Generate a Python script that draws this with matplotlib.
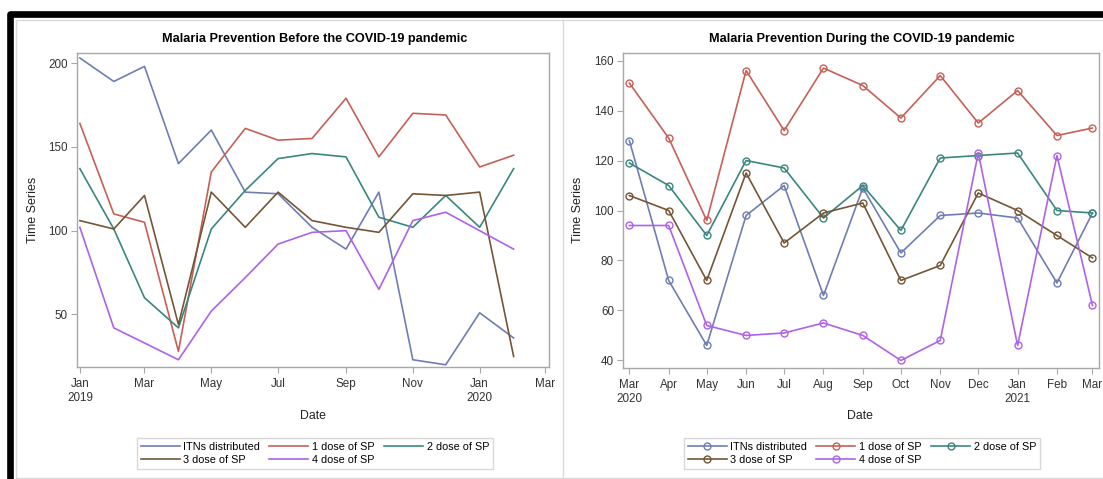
import matplotlib
matplotlib.use('Agg')
import matplotlib.pyplot as plt
import matplotlib.dates as mdates
from matplotlib.patches import Rectangle
from matplotlib.lines import Line2D
import pandas as pd

plt.rcParams['font.family'] = ['Liberation Sans', 'DejaVu Sans']

W, H = 1103, 479

series_names = ['ITNs distributed', '1 dose of SP', '2 dose of SP', '3 dose of SP', '4 dose of SP']
series_colors = ['#6F7DB4', '#C66056', '#39877F', '#745636', '#AD62E8']

# before the pandemic (monthly, Jan 2019 - Feb 2020)
months_before = ['2019-01', '2019-02', '2019-03', '2019-04', '2019-05', '2019-06', '2019-07',
                 '2019-08', '2019-09', '2019-10', '2019-11', '2019-12', '2020-01', '2020-02']
itn_before = [203, 189, 198, 140, 160, 123, 122, 102, 89, 123, 23, 20, 51, 36]
sp1_before = [164, 110, 105, 28, 135, 161, 154, 155, 179, 144, 170, 169, 138, 145]
sp2_before = [137, 101, 60, 42, 101, 124, 143, 146, 144, 108, 102, 121, 102, 137]
sp3_before = [106, 101, 121, 44, 123, 102, 123, 106, 102, 99, 122, 121, 123, 25]
sp4_before = [102, 42, 33, 23, 52, 72, 92, 99, 100, 65, 106, 111, 100, 89]

# during the pandemic (monthly, Mar 2020 - Mar 2021)
months_during = ['2020-03', '2020-04', '2020-05', '2020-06', '2020-07', '2020-08', '2020-09',
                 '2020-10', '2020-11', '2020-12', '2021-01', '2021-02', '2021-03']
itn_during = [128, 72, 46, 98, 110, 66, 109, 83, 98, 99, 97, 71, 99]
sp1_during = [151, 129, 96, 156, 132, 157, 150, 137, 154, 135, 148, 130, 133]
sp2_during = [119, 110, 90, 120, 117, 97, 110, 92, 121, 122, 123, 100, 99]
sp3_during = [106, 100, 72, 115, 87, 99, 103, 72, 78, 107, 100, 90, 81]
sp4_during = [94, 94, 54, 50, 51, 55, 50, 40, 48, 123, 46, 122, 62]


def fx(px):
    return px / W


def fy(py):
    return 1 - py / H


def month_label(x, pos=None):
    d = mdates.num2date(x)
    txt = d.strftime('%b')
    if d.month == 1 or pos == 0:
        txt += '\n' + d.strftime('%Y')
    return txt


def style_axes(ax):
    for s in ax.spines.values():
        s.set_color('#A8A8A8')
        s.set_linewidth(1.0)
    ax.tick_params(axis='both', direction='out', length=4, width=0.8, color='#A8A8A8',
                   labelsize=8.4, labelcolor='#333333', pad=2.5)
    ax.tick_params(axis='x', pad=4)
    ax.xaxis.set_major_formatter(plt.FuncFormatter(month_label))


fig = plt.figure(figsize=(W / 100, H / 100), dpi=100)

# outer frame and panel divider
fig.add_artist(Rectangle((fx(10), fy(500)), fx(1110), fy(14) - fy(500), transform=fig.transFigure,
                         fill=False, edgecolor='black', linewidth=4.8, joinstyle='round'))
fig.add_artist(Rectangle((fx(16), fy(478)), fx(1100), fy(20) - fy(478), transform=fig.transFigure,
                         fill=False, edgecolor='#DADADA', linewidth=1))
fig.add_artist(Line2D([fx(563), fx(563)], [fy(20), fy(478)], transform=fig.transFigure,
                      color='#DADADA', linewidth=1))

# left panel
ax1 = fig.add_axes([fx(77), fy(367.3), fx(549 - 77), fy(53.3) - fy(367.3)])
x1 = pd.to_datetime(months_before)
for vals, name, col in zip([itn_before, sp1_before, sp2_before, sp3_before, sp4_before],
                           series_names, series_colors):
    ax1.plot(x1, vals, color=col, linewidth=1.2, label=name)
ax1.set_ylim(18.5, 205.8)
ax1.set_yticks([50, 100, 150, 200])
ax1.set_xlim(mdates.date2num(pd.Timestamp('2019-01-01')) - 2.6,
             mdates.date2num(pd.Timestamp('2020-03-01')) + 3.3)
ax1.xaxis.set_major_locator(mdates.MonthLocator(bymonth=[1, 3, 5, 7, 9, 11]))
style_axes(ax1)

# right panel
ax2 = fig.add_axes([fx(623), fy(367.7), fx(1099.2 - 623), fy(53.3) - fy(367.7)])
x2 = pd.to_datetime(months_during)
for vals, name, col in zip([itn_during, sp1_during, sp2_during, sp3_during, sp4_during],
                           series_names, series_colors):
    ax2.plot(x2, vals, color=col, linewidth=1.2, marker='o', markersize=5,
             markerfacecolor='none', markeredgewidth=1.0, label=name)
ax2.set_ylim(37.1, 162.9)
ax2.set_yticks([40, 60, 80, 100, 120, 140, 160])
ax2.set_xlim(mdates.date2num(pd.Timestamp('2020-03-01')) - 5,
             mdates.date2num(pd.Timestamp('2021-03-01')) + 5.3)
ax2.xaxis.set_major_locator(mdates.MonthLocator())
style_axes(ax2)

titles = ['Malaria Prevention Before the COVID-19 pandemic',
          'Malaria Prevention During the COVID-19 pandemic']
for ax, title, cx, lx in zip([ax1, ax2], titles, [315, 862], [33, 578]):
    fig.text(fx(cx), fy(39), title, ha='center', va='center', fontsize=9.2,
             fontweight='bold', color='black')
    fig.text(fx(cx - 2), fy(416), 'Date', ha='center', va='center', fontsize=8.8, color='#222222')
    fig.text(fx(lx), fy(210), 'Time Series', ha='center', va='center', rotation=90,
             fontsize=9, color='#222222')
    h, l = ax.get_legend_handles_labels()
    order = [0, 3, 1, 4, 2]
    fig.legend([h[i] for i in order], [l[i] for i in order], ncol=3,
               loc='center', bbox_to_anchor=(fx(cx), fy(453.5)),
               fontsize=7.8, frameon=True, fancybox=False, edgecolor='#CFCFCF',
               handlelength=3.6, handletextpad=0.35, columnspacing=0.85,
               labelspacing=0.3, borderpad=0.35, numpoints=1)

fig.savefig('out.png', dpi=100)
